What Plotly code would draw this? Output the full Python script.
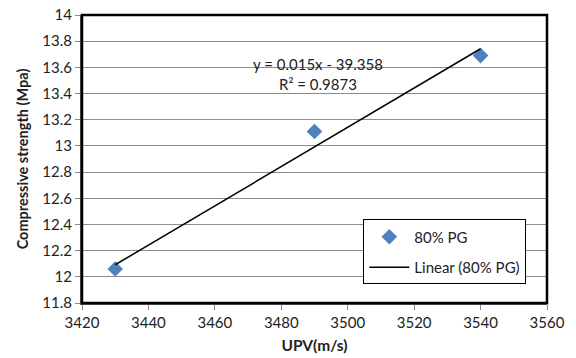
import plotly.graph_objects as go

# Ultrasonic pulse velocity vs. compressive strength, 80% PG mix
upv = [3430, 3490, 3540]
strength = [12.06, 13.11, 13.69]
series_name = "80% PG"

# Linear trendline as reported
slope = 0.015
intercept = -39.358
r_squared = 0.9873

x_ticks = [3420, 3440, 3460, 3480, 3500, 3520, 3540, 3560]
y_ticks = [11.8, 12, 12.2, 12.4, 12.6, 12.8, 13, 13.2, 13.4, 13.6, 13.8, 14]

font_family = "Lato, 'Open Sans', sans-serif"

trend_x = [min(upv), max(upv)]
trend_y = [slope * x + intercept for x in trend_x]

fig = go.Figure()
fig.add_trace(go.Scatter(
    x=upv, y=strength, mode="markers", name=series_name, legendgroup="a",
    marker=dict(symbol="diamond", size=12, color="#4F81BD",
                line=dict(width=0)),
))
fig.add_trace(go.Scatter(
    x=trend_x, y=trend_y, mode="lines", name=f"Linear ({series_name})",
    legendgroup="b",
    line=dict(color="black", width=1.5),
))

fig.add_annotation(
    x=3491, y=13.55, xref="x", yref="y",
    text=f"y = {slope}x - {abs(intercept)}<br>R² = {r_squared}",
    showarrow=False, font=dict(family=font_family, size=15, color="#222"),
    align="center",
)

# frame around the plot area (heavy top/right edge)
fig.add_shape(type="rect", xref="paper", yref="paper", x0=0, y0=0, x1=1, y1=1,
              line=dict(color="black", width=2.5), layer="above")

fig.update_layout(
    width=576, height=358,
    margin=dict(l=82, r=29, t=15, b=55),
    paper_bgcolor="white", plot_bgcolor="white",
    font=dict(family=font_family, size=15, color="#222"),
    showlegend=True,
    legend=dict(
        x=0.605, y=0.29, xanchor="left", yanchor="top",
        bordercolor="black", borderwidth=1, bgcolor="white",
        font=dict(family=font_family, size=15, color="#222"),
        traceorder="grouped", tracegroupgap=8, itemwidth=40,
        entrywidth=122,
    ),
    xaxis=dict(
        range=[3420, 3560], tickvals=x_ticks, automargin=False,
        showgrid=False, zeroline=False,
        showline=True, linecolor="#555", linewidth=2,
        ticks="outside", ticklen=5, tickcolor="#888",
        title=dict(text="<b>UPV(m/s)</b>", font=dict(size=15.5, family=font_family), standoff=10),
    ),
    yaxis=dict(
        range=[11.8, 14], tickvals=y_ticks, automargin=False,
        ticktext=[f"{v:g}" for v in y_ticks],
        showgrid=True, gridcolor="#8c8c8c", gridwidth=1, zeroline=False,
        showline=True, linecolor="#555", linewidth=2,
        ticks="outside", ticklen=5, tickcolor="#888",
        title=dict(text="<b>Compressive strength (Mpa)</b>", font=dict(size=14.5, family=font_family), standoff=10),
    ),
)

fig.write_html("out.html")
